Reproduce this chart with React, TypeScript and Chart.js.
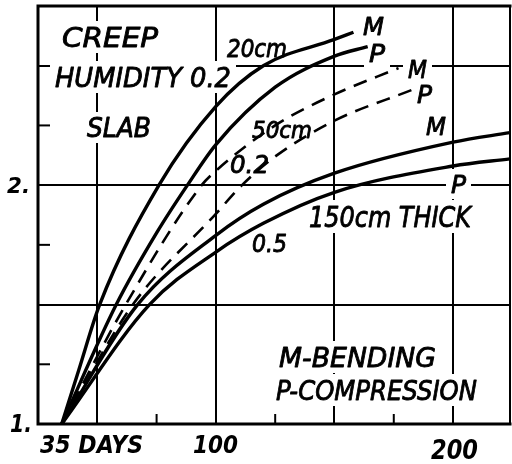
import { useEffect, useRef } from 'react';
import { Chart, registerables } from 'chart.js';
Chart.register(...registerables);

// ---- data (days, creep factor) ----
const days20M = [35, 42, 51, 76, 100, 120, 150, 158];
const creep20M = [1, 1.22, 1.5, 2.0, 2.33, 2.5, 2.61, 2.64];
const days20P = [35, 58, 75, 88, 100, 125, 150, 164];
const creep20P = [1, 1.5, 1.8, 2.0, 2.17, 2.41, 2.54, 2.58];
const days50M = [35, 62, 94, 100, 125, 150, 177];
const creep50M = [1, 1.5, 2.0, 2.06, 2.25, 2.38, 2.49];
const days50P = [35, 65, 100, 111, 125, 150, 183];
const creep50P = [1, 1.5, 1.88, 2.0, 2.12, 2.27, 2.4];
const days150M = [35, 67, 100, 120, 150, 200, 224];
const creep150M = [1, 1.5, 1.79, 1.92, 2.05, 2.18, 2.22];
const days150P = [35, 72, 100, 120, 150, 200, 224];
const creep150P = [1, 1.5, 1.72, 1.84, 1.97, 2.08, 2.11];

const xGrid = [50, 100, 150, 200];
const yGrid = [1.5, 2, 2.5];
const xMinor = [75, 125, 175];
const yMinor = [1.25, 1.75, 2.25];

const endLabels = ['M', 'P', 'M', 'P', 'M', 'P'];
const noteTexts = ['CREEP', 'HUMIDITY 0.2', 'SLAB', '20cm', '50cm', '0.2', '150cm THICK', '0.5', 'M-BENDING', 'P-COMPRESSION'];
const tickTexts = ['1.', '2.', '35 DAYS', '100', '200'];

// layout: [left, baseline, width, capHeight]
const endLabelPos = [
  [363, 35, 21, 18],
  [369, 62, 16, 18],
  [408, 78, 19, 18],
  [417, 103, 15, 18],
  [426, 135, 20, 18],
  [451, 193, 15, 18],
];
const notePos = [
  [62, 47, 96, 20],
  [55, 87, 176, 20],
  [87, 137, 64, 19],
  [227, 57, 60, 18],
  [252, 138, 60, 17],
  [230, 173, 39, 18],
  [309, 227, 162, 21],
  [252, 252, 35, 18],
  [279, 367, 157, 20],
  [276, 400, 201, 20],
];
const tickPos = [
  [10, 432, 22, 18],
  [7, 193, 23, 16],
  [40, 453, 103, 18],
  [193, 453, 45, 18],
  [431, 459, 47, 19],
];

const pts = (xs: number[], ys: number[]) => xs.map((x, i) => ({ x, y: ys[i] }));

function drawFit(ctx: CanvasRenderingContext2D, text: string, p: number[], bold: boolean) {
  const [left, base, width, cap] = p;
  const size = cap / 0.73;
  ctx.font = `${bold ? 'bold ' : ''}italic ${size}px "DejaVu Sans"`;
  const w = ctx.measureText(text).width;
  ctx.save();
  ctx.translate(left, base);
  ctx.scale(width / w, 1);
  ctx.fillStyle = '#000';
  ctx.strokeStyle = '#000';
  ctx.lineJoin = 'round';
  ctx.textBaseline = 'alphabetic';
  ctx.textAlign = 'left';
  ctx.fillText(text, 0, 0);
  if (!bold) {
    ctx.lineWidth = 0.9;
    ctx.strokeText(text, 0, 0);
  }
  ctx.restore();
}

export default function App() {
  const ref = useRef<HTMLCanvasElement>(null);
  useEffect(() => {
    const solid = { borderColor: '#000', borderWidth: 3.4, pointRadius: 0, fill: false, cubicInterpolationMode: 'monotone' as const };
    const dashed = { ...solid, borderWidth: 2.6, borderDash: [14, 9] };
    const deco = {
      id: 'deco',
      beforeDatasetsDraw(chart: any) {
        const ctx = chart.ctx as CanvasRenderingContext2D;
        ctx.save();
        ctx.fillStyle = '#fff';
        const boxes = [...notePos, ...endLabelPos];
        boxes.forEach(([l, b, w, c]) => ctx.fillRect(l - 5, b - c - 6, w + 10, c + 12));
        ctx.restore();
      },
      afterDatasetsDraw(chart: any) {
        const ctx = chart.ctx as CanvasRenderingContext2D;
        const { left, right, top, bottom } = chart.chartArea;
        const xs = chart.scales.x;
        const ys = chart.scales.y;
        ctx.save();
        ctx.strokeStyle = '#000';
        ctx.lineCap = 'square';
        ctx.lineWidth = 3;
        ctx.beginPath();
        ctx.moveTo(right, top);
        ctx.lineTo(left, top);
        ctx.lineTo(left, bottom);
        ctx.lineTo(right, bottom);
        ctx.stroke();
        ctx.lineWidth = 2;
        ctx.beginPath();
        ctx.moveTo(right, top);
        ctx.lineTo(right, bottom);
        ctx.stroke();
        ctx.lineWidth = 2;
        xMinor.forEach((v) => {
          const px = xs.getPixelForValue(v);
          ctx.beginPath();
          ctx.moveTo(px, bottom);
          ctx.lineTo(px, bottom - 9);
          ctx.stroke();
        });
        yMinor.forEach((v) => {
          const py = ys.getPixelForValue(v);
          ctx.beginPath();
          ctx.moveTo(left, py);
          ctx.lineTo(left + 11, py);
          ctx.stroke();
        });
        endLabels.forEach((t, i) => drawFit(ctx, t, endLabelPos[i], false));
        noteTexts.forEach((t, i) => drawFit(ctx, t, notePos[i], false));
        tickTexts.forEach((t, i) => drawFit(ctx, t, tickPos[i], true));
        ctx.restore();
      },
    };
    const chart = new Chart(ref.current!, {
      type: 'line',
      data: {
        datasets: [
          { ...solid, data: pts(days20M, creep20M) },
          { ...solid, data: pts(days20P, creep20P) },
          { ...dashed, data: pts(days50M, creep50M) },
          { ...dashed, data: pts(days50P, creep50P) },
          { ...solid, data: pts(days150M, creep150M) },
          { ...solid, data: pts(days150P, creep150P) },
        ] as any,
      },
      options: {
        responsive: false,
        animation: false,
        events: [],
        layout: { padding: { left: 38, top: 6, right: 2, bottom: 40 } },
        plugins: { legend: { display: false }, tooltip: { enabled: false } },
        scales: {
          x: {
            type: 'linear',
            min: 25,
            max: 224,
            afterBuildTicks: (s: any) => { s.ticks = xGrid.map((v) => ({ value: v })); },
            ticks: { display: false },
            grid: { color: '#000', lineWidth: 2, drawTicks: false },
            border: { display: false },
          },
          y: {
            type: 'linear',
            min: 1,
            max: 2.75,
            afterBuildTicks: (s: any) => { s.ticks = yGrid.map((v) => ({ value: v })); },
            ticks: { display: false },
            grid: { color: '#000', lineWidth: 2, drawTicks: false },
            border: { display: false },
          },
        },
      },
      plugins: [deco],
    });
    return () => chart.destroy();
  }, []);
  return (
    <div style={{ position: 'absolute', left: 0, top: 0, width: 512, height: 464, background: '#fff' }}>
      <canvas ref={ref} width={512} height={464} style={{ display: 'block' }} />
    </div>
  );
}
